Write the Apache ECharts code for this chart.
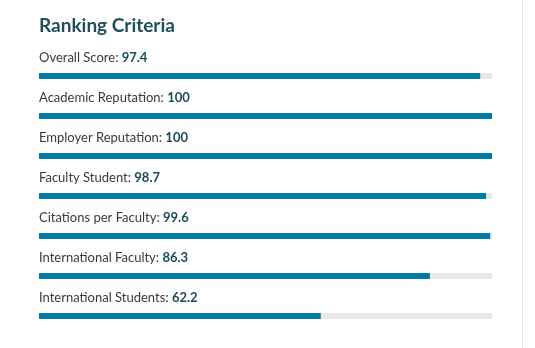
<!DOCTYPE html>
<html><head><meta charset="utf-8">
<script src="https://cdn.jsdelivr.net/npm/echarts@6/dist/echarts.min.js"></script>
<style>html,body{margin:0;padding:0;background:#fff}#c{width:535px;height:348px}</style>
</head><body><div id="c"></div>
<script>
var titleText = 'Ranking Criteria';
var categories = ['Overall Score','Academic Reputation','Employer Reputation','Faculty Student','Citations per Faculty','International Faculty','International Students'];
var values = [97.4, 100, 100, 98.7, 99.6, 86.3, 62.2];
var chart = echarts.init(document.getElementById('c'), null, {renderer:'canvas'});
chart.setOption({
  animation:false,
  title:{text:titleText,left:39,top:16,padding:0,textStyle:{fontFamily:'Lato',fontSize:19,fontWeight:'bold',color:'#1f4e5d'}},
  grid:{left:39,right:43,top:56,bottom:12},
  xAxis:{type:'value',min:0,max:100,show:false},
  yAxis:{type:'category',data:categories,inverse:true,show:false},
  graphic:[{type:'line',shape:{x1:522.5,y1:0,x2:522.5,y2:348},style:{stroke:'#e6e6e6',lineWidth:1}}],
  series:[{
    type:'bar',data:values,barWidth:6,
    itemStyle:{color:'#007ba1'},
    showBackground:true,backgroundStyle:{color:'#e8e8e8'},
    label:{show:true,position:[0,-15],verticalAlign:'middle',align:'left',
      formatter:function(p){return '{a|'+p.name+': }{b|'+p.value+'}';},
      rich:{a:{fontFamily:'Lato',fontSize:13,color:'#3a3a3a'},b:{fontFamily:'Lato',fontSize:13,fontWeight:'bold',color:'#1b4a5a'}}
    }
  }]
});
</script></body></html>
